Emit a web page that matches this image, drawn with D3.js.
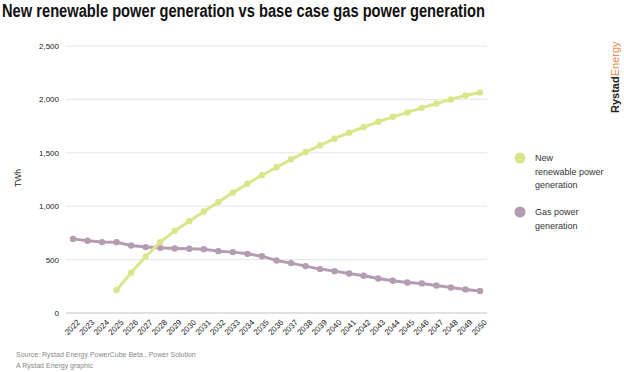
<!DOCTYPE html>
<html>
<head>
<meta charset="utf-8">
<script src="https://cdn.jsdelivr.net/npm/d3@7"></script>
<style>
  body { margin: 0; background: #fff; }
  text { font-family: "Liberation Sans", Arial, sans-serif; }
</style>
</head>
<body>
<script>
// years on the x axis
var years = d3.range(2022, 2051);

// new renewable power generation, TWh (starts 2025)
var renewYears = d3.range(2025, 2051);
var renewValues = [215, 377, 529, 663, 769, 860, 950, 1040, 1127, 1211,
  1290, 1364, 1439, 1507, 1570, 1632, 1688, 1741, 1791, 1837,
  1878, 1921, 1962, 2000, 2037, 2065];

// base case gas power generation, TWh
var gasValues = [694, 676, 664, 662, 632, 617, 610, 604, 601, 598,
  579, 570, 554, 532, 492, 467, 439, 411, 392, 370,
  349, 323, 302, 286, 277, 258, 239, 221, 206];

var yTicks = [0, 500, 1000, 1500, 2000, 2500];

var W = 624, H = 372;
var svg = d3.select("body").append("svg")
    .attr("width", W)
    .attr("height", H);

var green = "#dbe68a", purple = "#b49db3";

var x = d3.scalePoint().domain(years).range([73, 480]);
var y = d3.scaleLinear().domain([0, 2500]).range([313, 46]);

// title
svg.append("text")
    .attr("x", 2).attr("y", 17)
    .attr("textLength", 483)
    .attr("lengthAdjust", "spacingAndGlyphs")
    .style("font-size", "18px")
    .style("font-weight", "bold")
    .style("fill", "#111")
    .text("New renewable power generation vs base case gas power generation");

// gridlines
svg.append("g").selectAll("line")
    .data(yTicks.slice(1))
    .enter().append("line")
    .attr("x1", 66).attr("x2", 487)
    .attr("y1", function(d) { return y(d); })
    .attr("y2", function(d) { return y(d); })
    .style("stroke", "#e6e6e6")
    .style("stroke-width", 1);

// baseline
svg.append("line")
    .attr("x1", 66).attr("x2", 487)
    .attr("y1", y(0)).attr("y2", y(0))
    .style("stroke", "#e0e0e0")
    .style("stroke-width", 2);

// y axis labels
var yAxis = svg.append("g")
    .attr("transform", "translate(59,0)")
    .call(d3.axisLeft(y).tickValues(yTicks).tickSize(0).tickPadding(0)
      .tickFormat(d3.format(",")));
yAxis.select(".domain").remove();
yAxis.selectAll("text")
    .style("font-size", "8px")
    .style("fill", "#222")
    .style("font-family", "Liberation Sans, Arial, sans-serif");

svg.append("text")
    .attr("transform", "translate(21,178) rotate(-90)")
    .style("text-anchor", "middle")
    .style("font-size", "8.5px")
    .style("fill", "#222")
    .text("TWh");

// x axis labels
var xAxis = svg.append("g")
    .attr("transform", "translate(0," + y(0) + ")")
    .call(d3.axisBottom(x).tickSize(0).tickPadding(0));
xAxis.select(".domain").remove();
xAxis.selectAll("text")
    .attr("transform", "translate(3,6) rotate(-45)")
    .attr("dy", "0.7em")
    .style("text-anchor", "end")
    .style("font-size", "8px")
    .style("fill", "#222")
    .style("font-family", "Liberation Sans, Arial, sans-serif");

// series
var series = [
  { name: "gas", color: purple, data: years.map(function(yr, i) { return [yr, gasValues[i]]; }) },
  { name: "renew", color: green, data: renewYears.map(function(yr, i) { return [yr, renewValues[i]]; }) }
];

var line = d3.line()
    .x(function(d) { return x(d[0]); })
    .y(function(d) { return y(d[1]); });

series.forEach(function(s) {
  var g = svg.append("g");
  g.append("path")
      .datum(s.data)
      .attr("d", line)
      .style("fill", "none")
      .style("stroke", s.color)
      .style("stroke-width", 3);
  g.selectAll("circle")
      .data(s.data)
      .enter().append("circle")
      .attr("cx", function(d) { return x(d[0]); })
      .attr("cy", function(d) { return y(d[1]); })
      .attr("r", 3.2)
      .style("fill", s.color);
});

// legend
var legend = [
  { color: green, cy: 158, lines: ["New", "renewable power", "generation"] },
  { color: purple, cy: 212, lines: ["Gas power", "generation"] }
];
legend.forEach(function(l) {
  svg.append("circle")
      .attr("cx", 520).attr("cy", l.cy).attr("r", 5.5)
      .style("fill", l.color);
  svg.append("g").selectAll("text")
      .data(l.lines)
      .enter().append("text")
      .attr("x", 535)
      .attr("y", function(d, i) { return l.cy + 3 + i * 13.5; })
      .style("font-size", "9px")
      .style("fill", "#333")
      .text(function(d) { return d; });
});

// brand
var brand = svg.append("text")
    .attr("transform", "translate(619,113) rotate(-90)")
    .style("font-size", "11px");
brand.append("tspan").style("font-weight", "bold").style("fill", "#222").text("Rystad");
brand.append("tspan").style("fill", "#ec8b4c").text("Energy");

// source
svg.append("text")
    .attr("x", 16).attr("y", 357)
    .style("font-size", "7px")
    .style("fill", "#888")
    .text("Source: Rystad Energy PowerCube Beta , Power Solution");
svg.append("text")
    .attr("x", 16).attr("y", 368)
    .style("font-size", "7px")
    .style("fill", "#888")
    .text("A Rystad Energy graphic");
</script>
</body>
</html>
